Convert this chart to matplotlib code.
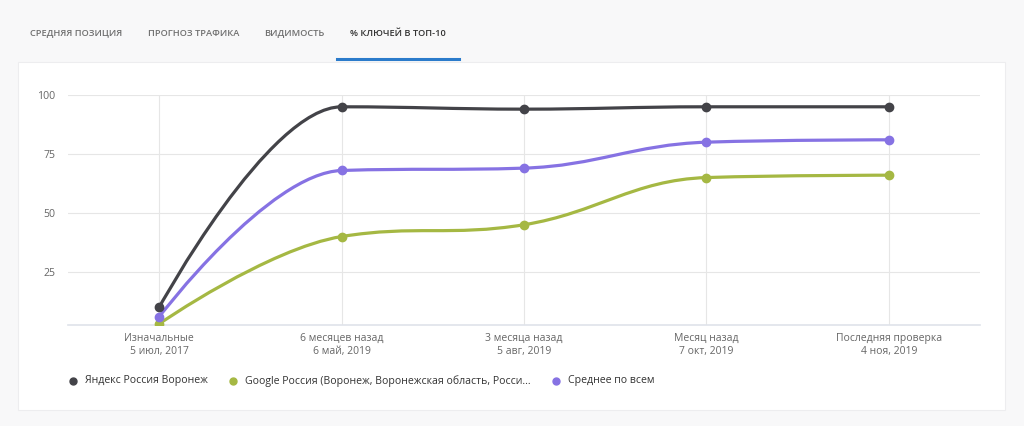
import numpy as np
import matplotlib
matplotlib.use('Agg')
import matplotlib.pyplot as plt
from matplotlib.path import Path
from matplotlib.patches import PathPatch, Rectangle

plt.rcParams['font.family'] = ['Open Sans', 'DejaVu Sans']

# data
tabs = ['СРЕДНЯЯ ПОЗИЦИЯ', 'ПРОГНОЗ ТРАФИКА', 'ВИДИМОСТЬ', '% КЛЮЧЕЙ В ТОП-10']
categories = ['Изначальные\n5 июл, 2017', '6 месяцев назад\n6 май, 2019',
              '3 месяца назад\n5 авг, 2019', 'Месяц назад\n7 окт, 2019',
              'Последняя проверка\n4 ноя, 2019']
series_names = ['Яндекс Россия Воронеж',
                'Google Россия (Воронеж, Воронежская область, Росси...',
                'Среднее по всем']
yandex = [10, 95, 94, 95, 95]
google = [3, 40, 45, 65, 66]
average = [6, 68, 69, 80, 81]
colors = ['#434348', '#a5b843', '#8672e3']


def spline_path(xs, ys, smoothing=1.5):
    # highcharts-style spline: cubic bezier with clamped control points
    n = len(xs)
    denom = smoothing + 1
    left = [None] * n
    right = [None] * n
    for i in range(1, n - 1):
        x, y = xs[i], ys[i]
        lx, ly = xs[i - 1], ys[i - 1]
        nx, ny = xs[i + 1], ys[i + 1]
        lcx = (smoothing * x + lx) / denom
        lcy = (smoothing * y + ly) / denom
        rcx = (smoothing * x + nx) / denom
        rcy = (smoothing * y + ny) / denom
        if rcx != lcx:
            corr = (rcy - lcy) * (rcx - x) / (rcx - lcx) + y - rcy
            lcy += corr
            rcy += corr
        if lcy > ly and lcy > y:
            lcy = max(ly, y)
            rcy = 2 * y - lcy
        elif lcy < ly and lcy < y:
            lcy = min(ly, y)
            rcy = 2 * y - lcy
        if rcy > ny and rcy > y:
            rcy = max(ny, y)
            lcy = 2 * y - rcy
        elif rcy < ny and rcy < y:
            rcy = min(ny, y)
            lcy = 2 * y - rcy
        left[i] = (lcx, lcy)
        right[i] = (rcx, rcy)
    verts = [(xs[0], ys[0])]
    codes = [Path.MOVETO]
    for i in range(1, n):
        c1 = right[i - 1] or (xs[i - 1], ys[i - 1])
        c2 = left[i] or (xs[i], ys[i])
        verts += [c1, c2, (xs[i], ys[i])]
        codes += [Path.CURVE4] * 3
    return Path(verts, codes)


fig = plt.figure(figsize=(10.24, 4.26), dpi=100)
fig.patch.set_facecolor('#f8f8f9')

# white card behind the chart
card = Rectangle((18 / 1024, 1 - 410 / 426), 987 / 1024, 348 / 426,
                 transform=fig.transFigure, facecolor='white',
                 edgecolor='#ededef', linewidth=0.8, zorder=-5)
fig.patches.append(card)

# tabs
tab_x = [30, 148, 264, 350]
for i, (t, tx) in enumerate(zip(tabs, tab_x)):
    active = i == len(tabs) - 1
    fig.text(tx / 1024, 1 - 33 / 426, t, fontsize=6.7, fontweight='semibold',
             color='#333333' if active else '#707070', va='center', ha='left')
fig.add_artist(plt.Line2D([337 / 1024, 459 / 1024], [1 - 58.5 / 426] * 2,
                          transform=fig.transFigure, color='#2b7bcb', lw=2.2))

ax = fig.add_axes([68 / 1024, 1 - 325 / 426, 912 / 1024, 230 / 426])
ax.patch.set_alpha(0)
x = np.arange(len(categories))
for data, c in zip([yandex, google, average], colors):
    p = spline_path(list(x), data)
    ax.add_patch(PathPatch(p, facecolor='none', edgecolor=c, lw=2.3,
                           capstyle='round', joinstyle='round', zorder=3))
    ax.plot(x, data, 'o', color=c, markersize=6, zorder=4)

ax.set_xlim(-0.5, 4.5)
ax.set_ylim(2.5, 100)
ax.set_yticks([25, 50, 75, 100])
ax.set_xticks(x)
ax.set_xticklabels(categories, fontsize=7.5, color='#666666', linespacing=1.2)
ax.tick_params(axis='y', labelsize=7.6, labelcolor='#666666', length=0, pad=9)
ax.tick_params(axis='x', length=0, pad=6)
ax.grid(True, color='#e6e6e6', lw=0.8)
ax.set_axisbelow(True)
for s in ['top', 'right', 'left']:
    ax.spines[s].set_visible(False)
ax.spines['bottom'].set_color('#dfe3ea')
ax.spines['bottom'].set_linewidth(1.2)

# legend
leg_x = [73, 233, 556]
for name, c, lx in zip(series_names, colors, leg_x):
    fig.add_artist(plt.Line2D([lx / 1024], [1 - 381 / 426], marker='o',
                              markersize=5, color=c, transform=fig.transFigure))
    fig.text((lx + 12) / 1024, 1 - 381 / 426, name, fontsize=7.6,
             color='#333333', va='center', ha='left')

fig.savefig('out.png', dpi=100, facecolor=fig.get_facecolor())
